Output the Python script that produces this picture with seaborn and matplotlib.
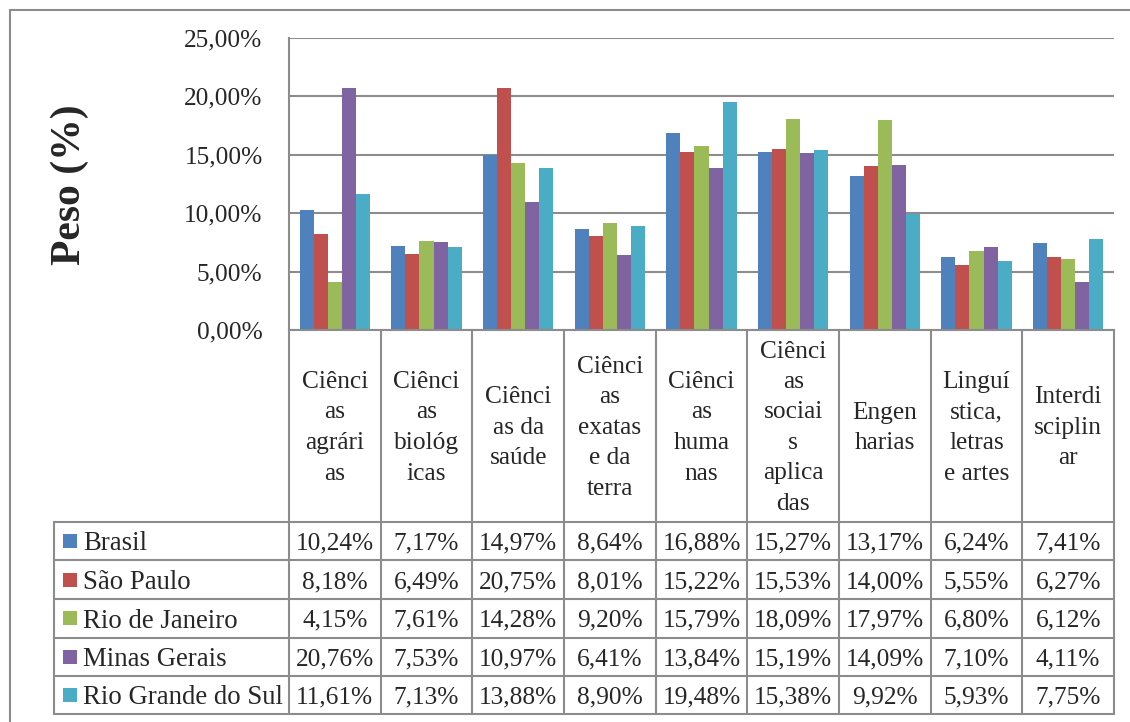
import numpy as np
import pandas as pd
import matplotlib
matplotlib.use("Agg")
import matplotlib.pyplot as plt
import matplotlib.transforms as mtransforms
from matplotlib.patches import Rectangle
import seaborn as sns

# Knowledge areas (header cells are wrapped the way the table shows them)
areas = [
    "Ciênci\nas\nagrári\nas",
    "Ciênci\nas\nbiológ\nicas",
    "Ciênci\nas da\nsaúde",
    "Ciênci\nas\nexatas\ne da\nterra",
    "Ciênci\nas\nhuma\nnas",
    "Ciênci\nas\nsociai\ns\naplica\ndas",
    "Engen\nharias",
    "Linguí\nstica,\nletras\ne artes",
    "Interdi\nsciplin\nar",
]

estados = ["Brasil", "São Paulo", "Rio de Janeiro", "Minas Gerais", "Rio Grande do Sul"]

brasil = [10.24, 7.17, 14.97, 8.64, 16.88, 15.27, 13.17, 6.24, 7.41]
sao_paulo = [8.18, 6.49, 20.75, 8.01, 15.22, 15.53, 14.00, 5.55, 6.27]
rio_de_janeiro = [4.15, 7.61, 14.28, 9.20, 15.79, 18.09, 17.97, 6.80, 6.12]
minas_gerais = [20.76, 7.53, 10.97, 6.41, 13.84, 15.19, 14.09, 7.10, 4.11]
rio_grande_do_sul = [11.61, 7.13, 13.88, 8.90, 19.48, 15.38, 9.92, 5.93, 7.75]

series = [brasil, sao_paulo, rio_de_janeiro, minas_gerais, rio_grande_do_sul]
colors = ["#4F81BD", "#C0504D", "#9BBB59", "#8064A2", "#4BACC6"]

y_ticks = [0, 5, 10, 15, 20, 25]

df = pd.DataFrame(
    [(a, e, v) for e, vals in zip(estados, series) for a, v in zip(areas, vals)],
    columns=["area", "estado", "peso"],
)

sns.set_style("white")
plt.rcParams["font.family"] = "serif"
plt.rcParams["font.serif"] = ["Liberation Serif", "DejaVu Serif"]

W, H = 1130, 722
fig = plt.figure(figsize=(W / 100, H / 100), dpi=100)


def fx(px):
    return px / W


def fy(px):
    return 1 - px / H


gray = "#8C8C8C"
lw = 1.5
fs = 18.3

ax = fig.add_axes([fx(289), fy(330), fx(1114) - fx(289), (330 - 38) / H])
sns.barplot(
    data=df, x="area", y="peso", hue="estado", hue_order=estados,
    palette=colors, saturation=1, width=0.77, linewidth=0,
    legend=False, ax=ax,
)
ax.set_xlim(-0.5, len(areas) - 0.5)
ax.set_ylim(0, 25)
ax.set_yticks(y_ticks)
ax.set_yticklabels([f"{t:.2f}%".replace(".", ",") for t in y_ticks], fontsize=fs)
ax.tick_params(axis="y", length=0, pad=19)
ax.set_xticks([])
ax.set_xlabel("")
ax.set_ylabel("")
ax.yaxis.grid(True, color=gray, linewidth=lw)
ax.set_axisbelow(True)
for side in ["top", "right"]:
    ax.spines[side].set_visible(False)
for side in ["left", "bottom"]:
    ax.spines[side].set_color(gray)
    ax.spines[side].set_linewidth(lw)

fig.text(fx(70), fy(185), "Peso (%)", rotation=90, fontsize=30,
         fontweight="bold", ha="center", va="center")

# Data table under the plot: columns follow the category axis
blend = mtransforms.blended_transform_factory(ax.transData, fig.transFigure)
header_top, header_bottom = 330, 521.5
row_edges = [521.5, 560, 599, 637.5, 676, 714]
n = len(areas)

for k in range(n + 1):
    ax.plot([k - 0.5, k - 0.5], [fy(header_top), fy(row_edges[-1])],
            transform=blend, color=gray, lw=lw, clip_on=False)
for ypx in row_edges:
    fig.add_artist(plt.Line2D([fx(54), fx(1114)], [fy(ypx), fy(ypx)],
                              color=gray, lw=lw))
fig.add_artist(plt.Line2D([fx(54), fx(54)], [fy(row_edges[0]), fy(row_edges[-1])],
                          color=gray, lw=lw))

for i, a in enumerate(areas):
    ax.text(i, fy((header_top + header_bottom) / 2 + 2), a, transform=blend,
            ha="center", va="center", fontsize=fs, linespacing=1.5)

for r, (estado, vals, c) in enumerate(zip(estados, series, colors)):
    yc = fy((row_edges[r] + row_edges[r + 1]) / 2)
    fig.add_artist(Rectangle((fx(63), yc - 7 / H), 14 / W, 14 / H,
                             facecolor=c, edgecolor="none"))
    fig.text(fx(83), yc, estado, ha="left", va="center_baseline", fontsize=19.3)
    for i, v in enumerate(vals):
        ax.text(i, yc, f"{v:.2f}%".replace(".", ","), transform=blend,
                ha="center", va="center_baseline", fontsize=fs)

# Chart frame
fig.add_artist(plt.Line2D([fx(10), 1], [fy(9.5), fy(9.5)], color=gray, lw=lw))
fig.add_artist(plt.Line2D([fx(10), fx(10)], [fy(9.5), 0], color=gray, lw=lw))

fig.savefig("out.png", dpi=100, facecolor="white")
